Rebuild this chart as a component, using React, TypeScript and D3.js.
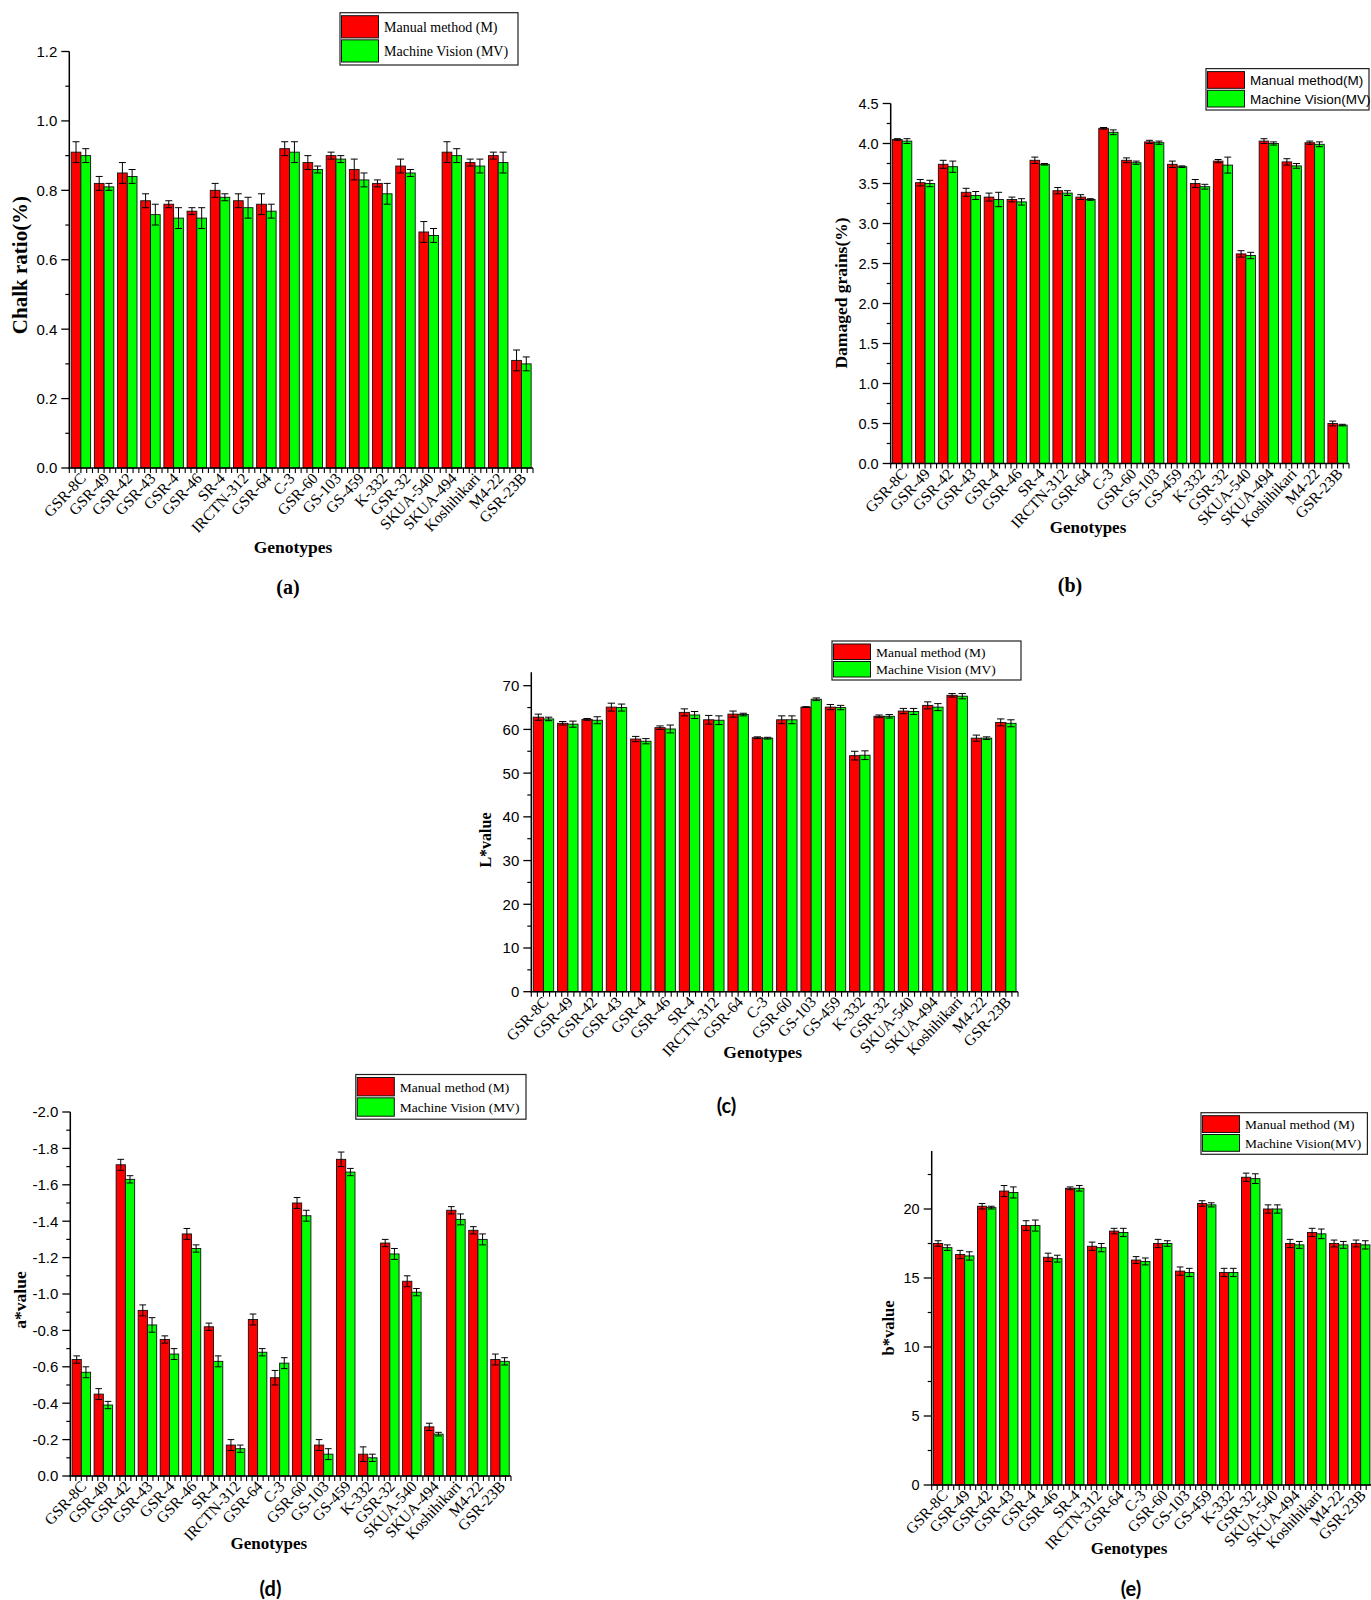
import React, { useEffect } from 'react';
import * as d3 from 'd3';

// genotypes shared by all five panels
const genotypes = [
  'GSR-8C', 'GSR-49', 'GSR-42', 'GSR-43', 'GSR-4', 'GSR-46', 'SR-4', 'IRCTN-312', 'GSR-64', 'C-3',
  'GSR-60', 'GS-103', 'GS-459', 'K-332', 'GSR-32', 'SKUA-540', 'SKUA-494', 'Koshihikari', 'M4-22', 'GSR-23B',
];

// (a) chalk ratio (%)
const chalkM = [0.91, 0.82, 0.85, 0.77, 0.76, 0.74, 0.80, 0.77, 0.76, 0.92, 0.88, 0.90, 0.86, 0.82, 0.87, 0.68, 0.91, 0.88, 0.90, 0.31];
const chalkMErr = [0.03, 0.02, 0.03, 0.02, 0.01, 0.01, 0.02, 0.02, 0.03, 0.02, 0.02, 0.01, 0.03, 0.01, 0.02, 0.03, 0.03, 0.01, 0.01, 0.03];
const chalkMV = [0.90, 0.81, 0.84, 0.73, 0.72, 0.72, 0.78, 0.75, 0.74, 0.91, 0.86, 0.89, 0.83, 0.79, 0.85, 0.67, 0.90, 0.87, 0.88, 0.30];
const chalkMVErr = [0.02, 0.01, 0.02, 0.03, 0.03, 0.03, 0.01, 0.03, 0.02, 0.03, 0.01, 0.01, 0.02, 0.03, 0.01, 0.02, 0.02, 0.02, 0.03, 0.02];
const chalkTicks = [0, 0.2, 0.4, 0.6, 0.8, 1.0, 1.2];

// (b) damaged grains (%)
const damagedM = [4.05, 3.51, 3.74, 3.39, 3.33, 3.30, 3.79, 3.41, 3.33, 4.19, 3.79, 4.02, 3.74, 3.50, 3.78, 2.62, 4.03, 3.77, 4.01, 0.50];
const damagedMErr = [0.01, 0.04, 0.05, 0.05, 0.05, 0.03, 0.04, 0.04, 0.03, 0.01, 0.03, 0.02, 0.04, 0.05, 0.02, 0.04, 0.03, 0.04, 0.02, 0.03];
const damagedMV = [4.03, 3.50, 3.71, 3.35, 3.30, 3.27, 3.74, 3.38, 3.30, 4.14, 3.76, 4.01, 3.71, 3.46, 3.73, 2.60, 4.00, 3.72, 3.99, 0.48];
const damagedMVErr = [0.03, 0.04, 0.07, 0.05, 0.09, 0.04, 0.01, 0.03, 0.01, 0.03, 0.02, 0.02, 0.01, 0.03, 0.10, 0.04, 0.02, 0.03, 0.03, 0.01];
const damagedTicks = [0, 0.5, 1.0, 1.5, 2.0, 2.5, 3.0, 3.5, 4.0, 4.5];

// (c) L* value
const lightM = [62.8, 61.4, 62.3, 65.1, 57.8, 60.4, 63.9, 62.2, 63.5, 58.1, 62.2, 65.1, 65.1, 54.0, 63.0, 64.2, 65.5, 67.8, 58.0, 61.6];
const lightMErr = [0.7, 0.4, 0.2, 0.9, 0.6, 0.4, 0.8, 1.0, 0.7, 0.2, 0.9, 0.1, 0.6, 1.0, 0.3, 0.6, 0.8, 0.4, 0.7, 0.8];
const lightMV = [62.4, 61.2, 62.1, 65.0, 57.3, 60.1, 63.3, 62.1, 63.4, 58.0, 62.2, 66.9, 65.0, 54.1, 63.0, 64.1, 65.1, 67.6, 58.0, 61.4];
const lightMVErr = [0.4, 0.7, 0.8, 0.8, 0.6, 0.9, 0.8, 1.0, 0.3, 0.2, 0.9, 0.3, 0.5, 1.0, 0.4, 0.7, 0.8, 0.6, 0.3, 0.8];
const lightTicks = [0, 10, 20, 30, 40, 50, 60, 70];

// (d) a* value (negative, axis reversed)
const redM = [-0.64, -0.45, -1.71, -0.91, -0.75, -1.33, -0.82, -0.17, -0.86, -0.54, -1.50, -0.17, -1.74, -0.12, -1.28, -1.07, -0.27, -1.46, -1.35, -0.64];
const redMErr = [0.02, 0.03, 0.03, 0.03, 0.02, 0.03, 0.02, 0.03, 0.03, 0.04, 0.03, 0.03, 0.04, 0.04, 0.02, 0.03, 0.02, 0.02, 0.02, 0.03];
const redMV = [-0.57, -0.39, -1.63, -0.83, -0.67, -1.25, -0.63, -0.15, -0.68, -0.62, -1.43, -0.12, -1.67, -0.10, -1.22, -1.01, -0.23, -1.41, -1.30, -0.63];
const redMVErr = [0.03, 0.02, 0.02, 0.04, 0.03, 0.02, 0.03, 0.02, 0.02, 0.03, 0.03, 0.03, 0.02, 0.02, 0.03, 0.02, 0.01, 0.03, 0.03, 0.02];
const redTicks = [0, -0.2, -0.4, -0.6, -0.8, -1.0, -1.2, -1.4, -1.6, -1.8, -2.0];

// (e) b* value
const yellowM = [17.5, 16.7, 20.2, 21.3, 18.8, 16.5, 21.5, 17.3, 18.4, 16.3, 17.5, 15.5, 20.4, 15.4, 22.3, 20.0, 17.5, 18.3, 17.5, 17.5];
const yellowMErr = [0.2, 0.3, 0.2, 0.4, 0.35, 0.3, 0.1, 0.3, 0.2, 0.25, 0.3, 0.3, 0.2, 0.3, 0.3, 0.3, 0.3, 0.3, 0.25, 0.25];
const yellowMV = [17.2, 16.6, 20.1, 21.2, 18.8, 16.4, 21.5, 17.2, 18.3, 16.2, 17.5, 15.4, 20.3, 15.4, 22.2, 20.0, 17.4, 18.2, 17.4, 17.4];
const yellowMVErr = [0.2, 0.3, 0.1, 0.4, 0.4, 0.25, 0.2, 0.3, 0.3, 0.25, 0.2, 0.3, 0.15, 0.3, 0.35, 0.3, 0.25, 0.35, 0.25, 0.3];
const yellowTicks = [0, 5, 10, 15, 20];

const RED = '#ff0000';
const GREEN = '#00ff00';
const SERIF = '"Liberation Serif", "Times New Roman", serif';
const SANS = '"Liberation Sans", Arial, sans-serif';
const TAGFONT = 'Lato, "Liberation Sans", sans-serif';

type Panel = {
  tag: string; tagFont: string; tagX: number; tagY: number;
  m: number[]; mErr: number[]; mv: number[]; mvErr: number[];
  ticks: number[]; minor: number; digits: number; axisMax: number;
  x0: number; x1: number; yBottom: number; yTop: number;
  yLabel: string; yLabelX: number; yLabelY: number; yLabelSize: number;
  titleX: number; titleY: number; titleSize: number;
  legend: { x: number; y: number; w: number; h: number; font: string; size: number; labels: string[] };
  tickSize: number;
};

const panels: Panel[] = [
  {
    tag: '(a)', tagFont: SERIF, tagX: 288, tagY: 594,
    m: chalkM, mErr: chalkMErr, mv: chalkMV, mvErr: chalkMVErr,
    ticks: chalkTicks, minor: 0.1, digits: 1, axisMax: 1.2,
    x0: 69.3, x1: 533, yBottom: 468, yTop: 51.5,
    yLabel: 'Chalk ratio(%)', yLabelX: 19.5, yLabelY: 265, yLabelSize: 21,
    titleX: 293, titleY: 553, titleSize: 17.5,
    legend: { x: 340, y: 12.7, w: 178, h: 52.3, font: SERIF, size: 14, labels: ['Manual method (M)', 'Machine Vision (MV)'] },
    tickSize: 15,
  },
  {
    tag: '(b)', tagFont: SERIF, tagX: 1070, tagY: 592,
    m: damagedM, mErr: damagedMErr, mv: damagedMV, mvErr: damagedMVErr,
    ticks: damagedTicks, minor: 0.25, digits: 1, axisMax: 4.5,
    x0: 890.7, x1: 1349, yBottom: 463.5, yTop: 103.5,
    yLabel: 'Damaged grains(%)', yLabelX: 841, yLabelY: 293, yLabelSize: 17.5,
    titleX: 1088, titleY: 533, titleSize: 17,
    legend: { x: 1206, y: 68.6, w: 163, h: 41.4, font: SANS, size: 13.5, labels: ['Manual method(M)', 'Machine Vision(MV)'] },
    tickSize: 14.5,
  },
  {
    tag: '(c)', tagFont: TAGFONT, tagX: 726.5, tagY: 1113,
    m: lightM, mErr: lightMErr, mv: lightMV, mvErr: lightMVErr,
    ticks: lightTicks, minor: 5, digits: 0, axisMax: 73.1,
    x0: 531.3, x1: 1018, yBottom: 991.7, yTop: 685.7,
    yLabel: 'L*value', yLabelX: 485, yLabelY: 840, yLabelSize: 16,
    titleX: 762.7, titleY: 1058, titleSize: 17.5,
    legend: { x: 832, y: 641, w: 189, h: 39, font: SERIF, size: 13.5, labels: ['Manual method (M)', 'Machine Vision (MV)'] },
    tickSize: 15,
  },
  {
    tag: '(d)', tagFont: TAGFONT, tagX: 270.5, tagY: 1596,
    m: redM, mErr: redMErr, mv: redMV, mvErr: redMVErr,
    ticks: redTicks, minor: -0.1, digits: 1, axisMax: -2.0,
    x0: 70.3, x1: 511, yBottom: 1476, yTop: 1112,
    yLabel: 'a*value', yLabelX: 19.7, yLabelY: 1300, yLabelSize: 17.5,
    titleX: 268.8, titleY: 1549, titleSize: 17,
    legend: { x: 355.8, y: 1074.5, w: 170.2, h: 44.7, font: SERIF, size: 13.5, labels: ['Manual method (M)', 'Machine Vision (MV)'] },
    tickSize: 15,
  },
  {
    tag: '(e)', tagFont: TAGFONT, tagX: 1131, tagY: 1596,
    m: yellowM, mErr: yellowMErr, mv: yellowMV, mvErr: yellowMVErr,
    ticks: yellowTicks, minor: 2.5, digits: 0, axisMax: 24.2,
    x0: 931.7, x1: 1371.7, yBottom: 1485, yTop: 1209,
    yLabel: 'b*value', yLabelX: 888.5, yLabelY: 1328, yLabelSize: 16.5,
    titleX: 1129, titleY: 1554, titleSize: 17,
    legend: { x: 1201, y: 1112.7, w: 166.4, h: 41.6, font: SERIF, size: 13.5, labels: ['Manual method (M)', 'Machine Vision(MV)'] },
    tickSize: 14.5,
  },
];

function BarPanel({ p }: { p: Panel }) {
  const topTick = p.ticks[p.ticks.length - 1];
  const y = d3.scaleLinear().domain([0, topTick]).range([p.yBottom, p.yTop]);
  const x = d3.scaleBand<string>().domain(genotypes).range([p.x0, p.x1]).paddingInner(0.16).paddingOuter(0.08);
  const inner = d3.scaleBand<string>().domain(['M', 'MV']).range([0, x.bandwidth()]);
  const bw = inner.bandwidth();
  const step = x.step();
  const cap = bw * 0.36;

  // minor y ticks between labelled ones, never beyond the axis end
  const minorTicks: number[] = [];
  const nMinor = Math.floor(Math.abs(p.axisMax / p.minor) + 1e-6);
  for (let k = 1; k <= nMinor; k++) {
    const v = k * p.minor;
    if (!p.ticks.some((t) => Math.abs(t - v) < 1e-6)) minorTicks.push(v);
  }
  // x ticks every quarter of a group
  const xTicks = d3.range(0, genotypes.length * 4 + 1).map((k) => p.x0 + (k * step) / 4);

  const series = [
    { key: 'M', vals: p.m, errs: p.mErr, fill: RED },
    { key: 'MV', vals: p.mv, errs: p.mvErr, fill: GREEN },
  ];

  const lg = p.legend;
  const swW = 37;
  const rowH = (lg.h - 6) / 2;

  return (
    <g>
      {/* bars */}
      {series.map((s) =>
        genotypes.map((g, i) => {
          const bx = (x(g) ?? 0) + (inner(s.key) ?? 0);
          const v = s.vals[i];
          const top = Math.min(y(v), y(0));
          const h = Math.abs(y(v) - y(0));
          return (
            <rect key={s.key + g} x={bx} y={top} width={bw} height={h}
              fill={s.fill} stroke="#111" strokeWidth={0.9} />
          );
        })
      )}
      {/* error bars */}
      {series.map((s) =>
        genotypes.map((g, i) => {
          const cx = (x(g) ?? 0) + (inner(s.key) ?? 0) + bw / 2;
          const v = s.vals[i];
          const e = s.errs[i];
          const y1 = y(v - e);
          const y2 = y(v + e);
          return (
            <g key={'e' + s.key + g} stroke="#000" strokeWidth={1}>
              <line x1={cx} x2={cx} y1={y1} y2={y2} />
              <line x1={cx - cap} x2={cx + cap} y1={y1} y2={y1} />
              <line x1={cx - cap} x2={cx + cap} y1={y2} y2={y2} />
            </g>
          );
        })
      )}
      {/* y axis */}
      <line x1={p.x0} x2={p.x0} y1={y(0) + 0.75} y2={y(p.axisMax)} stroke="#000" strokeWidth={1.5} />
      {p.ticks.map((t) => (
        <g key={'yt' + t}>
          <line x1={p.x0 - 8} x2={p.x0} y1={y(t)} y2={y(t)} stroke="#000" strokeWidth={1.3} />
          <text x={p.x0 - 12} y={y(t)} dy="0.36em" textAnchor="end" fontFamily={SANS} fontSize={p.tickSize} fill="#000">
            {t.toFixed(p.digits)}
          </text>
        </g>
      ))}
      {minorTicks.map((t) => (
        <line key={'ym' + t} x1={p.x0 - 4} x2={p.x0} y1={y(t)} y2={y(t)} stroke="#000" strokeWidth={1.2} />
      ))}
      {/* x axis */}
      <line x1={p.x0 - 0.75} x2={p.x1} y1={y(0)} y2={y(0)} stroke="#000" strokeWidth={1.5} />
      {xTicks.map((tx, k) => (
        <line key={'xt' + k} x1={tx} x2={tx} y1={y(0)} y2={y(0) + 5} stroke="#000" strokeWidth={1.1} />
      ))}
      {genotypes.map((g) => {
        const cx = (x(g) ?? 0) + x.bandwidth() / 2;
        return (
          <text key={'xl' + g} transform={`translate(${cx + 6},${y(0) + 11}) rotate(-47)`}
            textAnchor="end" fontFamily={SERIF} fontSize={15.5} fill="#000">
            {g}
          </text>
        );
      })}
      {/* titles */}
      <text transform={`translate(${p.yLabelX},${p.yLabelY}) rotate(-90)`} dy="0.35em" textAnchor="middle"
        fontFamily={SERIF} fontWeight="bold" fontSize={p.yLabelSize} fill="#000">
        {p.yLabel}
      </text>
      <text x={p.titleX} y={p.titleY} textAnchor="middle" fontFamily={SERIF} fontWeight="bold" fontSize={p.titleSize} fill="#000">
        Genotypes
      </text>
      <text x={p.tagX} y={p.tagY} textAnchor="middle" fontFamily={p.tagFont} fontWeight="bold" fontSize={20} fill="#000">
        {p.tag}
      </text>
      {/* legend */}
      <rect x={lg.x} y={lg.y} width={lg.w} height={lg.h} fill="#fff" stroke="#222" strokeWidth={1.2} />
      {[RED, GREEN].map((c, k) => (
        <g key={'lg' + k}>
          <rect x={lg.x + 1.5} y={lg.y + 3 + k * (rowH + 1)} width={swW} height={rowH - 1}
            fill={c} stroke="#111" strokeWidth={1} />
          <text x={lg.x + swW + 7} y={lg.y + 3 + k * (rowH + 1) + rowH / 2} dy="0.35em"
            fontFamily={lg.font} fontSize={lg.size} fill="#000">
            {lg.labels[k]}
          </text>
        </g>
      ))}
    </g>
  );
}

export default function App() {
  useEffect(() => {
    document.body.style.margin = '0';
  }, []);
  return (
    <svg width={1371} height={1600} viewBox="0 0 1371 1600" style={{ display: 'block', background: '#fff' }}>
      <rect width={1371} height={1600} fill="#fff" />
      {panels.map((p) => (
        <BarPanel key={p.tag} p={p} />
      ))}
    </svg>
  );
}
